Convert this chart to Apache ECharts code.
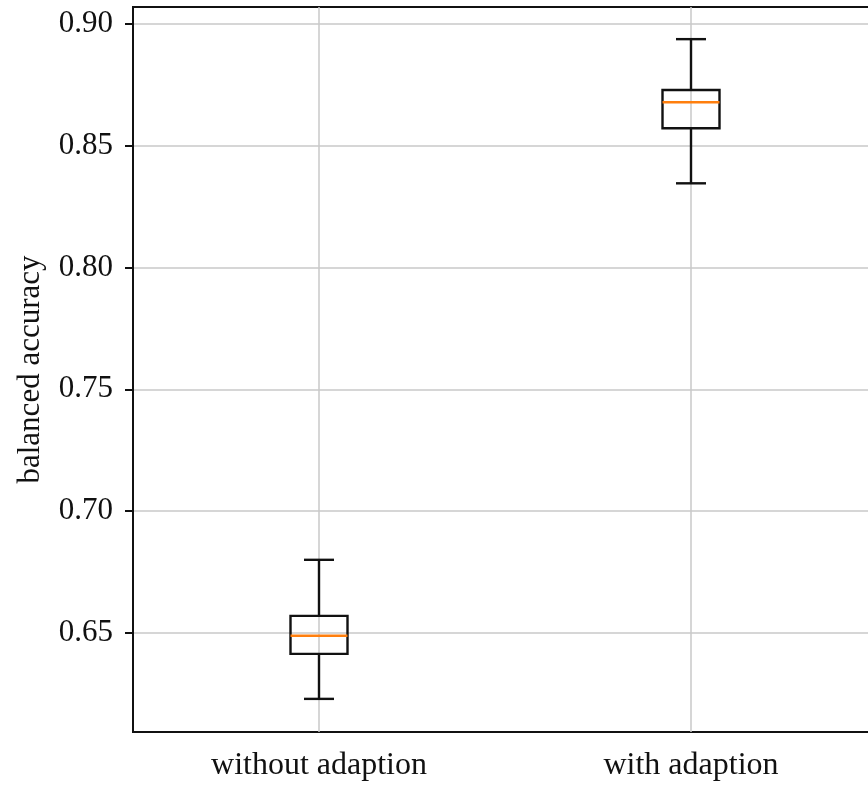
<!DOCTYPE html>
<html>
<head>
<meta charset="utf-8">
<script src="https://cdn.jsdelivr.net/npm/echarts@6/dist/echarts.min.js"></script>
<style>
html,body{margin:0;padding:0;background:#fff;}
#chart{width:868px;height:785px;}
</style>
</head>
<body>
<div id="chart"></div>
<script>
// categories and box stats: [low whisker, q1, median, q3, high whisker]
var categories = ['without adaption', 'with adaption'];
var lowWhisker = [0.6229, 0.8346];
var q1Values   = [0.6414, 0.8572];
var medians    = [0.6488, 0.8679];
var q3Values   = [0.6570, 0.8729];
var highWhisker= [0.6800, 0.8938];
var yTicks     = [0.65, 0.70, 0.75, 0.80, 0.85, 0.90];

var font = '"Liberation Serif","DejaVu Serif",serif';

var boxData = categories.map(function (c, i) {
    return [i, lowWhisker[i], q1Values[i], medians[i], q3Values[i], highWhisker[i]];
});

function renderBox(params, api) {
    var i = api.value(0);
    var lo = api.coord([i, api.value(1)]);
    var b1 = api.coord([i, api.value(2)]);
    var md = api.coord([i, api.value(3)]);
    var b3 = api.coord([i, api.value(4)]);
    var hi = api.coord([i, api.value(5)]);
    var cx = lo[0];
    var hw = 28.5, hc = 15;
    var ls = {stroke: '#111', lineWidth: 2.4, fill: null};
    return {
        type: 'group',
        children: [
            {type: 'line', shape: {x1: cx, y1: lo[1], x2: cx, y2: b1[1]}, style: ls},
            {type: 'line', shape: {x1: cx, y1: b3[1], x2: cx, y2: hi[1]}, style: ls},
            {type: 'line', shape: {x1: cx - hc, y1: lo[1], x2: cx + hc, y2: lo[1]}, style: ls},
            {type: 'line', shape: {x1: cx - hc, y1: hi[1], x2: cx + hc, y2: hi[1]}, style: ls},
            {type: 'rect', shape: {x: cx - hw, y: b3[1], width: hw * 2, height: b1[1] - b3[1]}, style: ls},
            {type: 'line', shape: {x1: cx - hw, y1: md[1], x2: cx + hw, y2: md[1]},
                style: {stroke: '#ff7f0e', lineWidth: 2.4}}
        ]
    };
}

var chart = echarts.init(document.getElementById('chart'));
chart.setOption({
    backgroundColor: '#fff',
    animation: false,
    grid: {
        left: 133, top: 7, right: -9, bottom: 53,
        outerBoundsMode: 'none',
        show: true, borderColor: '#111', borderWidth: 2, backgroundColor: 'transparent'
    },
    xAxis: {
        type: 'category',
        data: categories,
        boundaryGap: true,
        axisLine: {lineStyle: {color: '#111', width: 2}},
        axisTick: {alignWithLabel: true, inside: false, length: 8, lineStyle: {color: '#111', width: 2}},
        axisLabel: {color: '#111', fontFamily: font, fontSize: 32, margin: 18},
        splitLine: {show: false}
    },
    yAxis: {
        type: 'value',
        min: 0.6093,
        max: 0.907,
        name: 'balanced accuracy',
        nameLocation: 'middle',
        nameGap: 87,
        nameTextStyle: {color: '#111', fontFamily: font, fontSize: 31},
        axisLine: {show: true, lineStyle: {color: '#111', width: 2}},
        axisTick: {show: true, length: 8, customValues: yTicks, lineStyle: {color: '#111', width: 2}},
        axisLabel: {
            color: '#111', fontFamily: font, fontSize: 31, margin: 20,
            customValues: yTicks,
            formatter: function (v) { return v.toFixed(2); }
        },
        splitLine: {show: true, lineStyle: {color: '#c8c8c8', width: 1.5}}
    },
    series: [{
        type: 'custom',
        renderItem: renderBox,
        encode: {x: 0, y: [1, 2, 3, 4, 5]},
        data: boxData,
        z: 3,
        markLine: {
            silent: true,
            symbol: 'none',
            label: {show: false},
            lineStyle: {color: '#c8c8c8', width: 1.5, type: 'solid'},
            data: categories.map(function (c) { return {xAxis: c}; }),
            z: 1
        }
    }]
});
</script>
</body>
</html>
